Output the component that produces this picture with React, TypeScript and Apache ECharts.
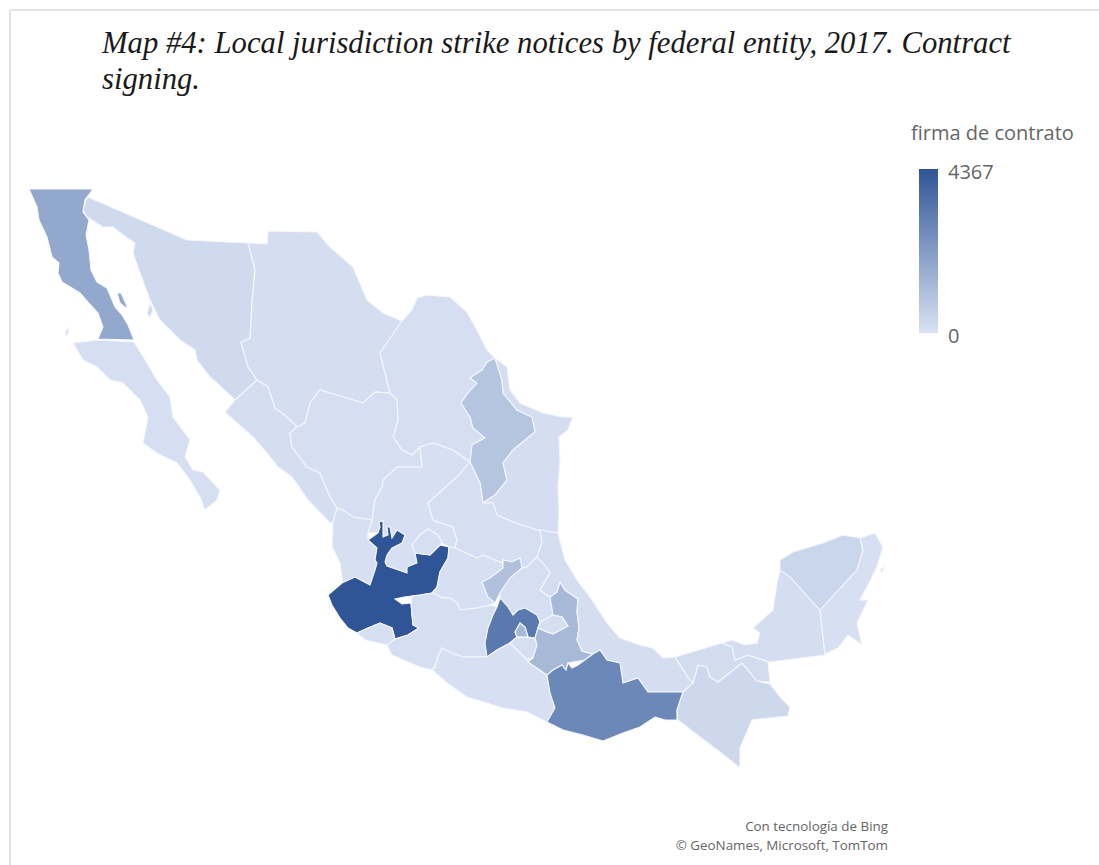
import React, { useEffect, useRef } from "react";
import * as echarts from "echarts";

const titleLines = [
  "Map #4: Local jurisdiction strike notices by federal entity, 2017. Contract",
  "signing.",
];
const legendTitle = "firma de contrato";
const creditLines = ["Con tecnología de Bing", "© GeoNames, Microsoft, TomTom"];

const valueMin = 0;
const valueMax = 4367;
const rampLow = "#D9E2F3";
const rampHigh = "#2F5597";

const stateNames = [
  "Baja California", "Baja California Sur", "Sonora", "Chihuahua", "Coahuila", "Nuevo León",
  "Tamaulipas", "Sinaloa", "Durango", "Zacatecas", "Nayarit", "Jalisco", "Aguascalientes",
  "San Luis Potosí", "Guanajuato", "Querétaro", "Hidalgo", "Michoacán", "Colima", "México",
  "Ciudad de México", "Morelos", "Guerrero", "Puebla", "Tlaxcala", "Veracruz", "Oaxaca",
  "Chiapas", "Tabasco", "Campeche", "Yucatán", "Quintana Roo",
];
const stateValues = [
  1800, 90, 260, 110, 90, 930,
  120, 110, 90, 70, 60, 4367, 80,
  90, 70, 1050, 100, 90, 70, 3250,
  1230, 80, 70, 1260, 80, 110, 2800,
  310, 200, 130, 380, 60,
];

type Ring = number[][];

// Hand-traced state outlines in screen units (x right, y down), one list of rings per state.
const stateOutlines: Ring[][] = [
  [
    [[29,189],[93,189],[85,200],[83,212],[89,220],[86,235],[89,250],[91,270],[97,282],[107,288],[115,307],[122,315],[128,325],[134,340],[98,339],[103,327],[98,313],[88,302],[80,293],[62,282],[58,273],[59,263],[52,257],[47,237],[39,220],[37,207]],
    [[117,293],[121,293],[127,306],[126,308],[120,303]],
  ],
  [
    [[73,343],[98,340],[134,342],[147,363],[157,380],[170,397],[173,417],[190,440],[185,457],[193,470],[203,472],[220,490],[217,500],[205,510],[200,497],[190,480],[177,463],[157,453],[143,443],[148,417],[140,400],[123,383],[110,380],[97,367],[83,360]],
    [[65,333],[68,327],[69,332],[67,336]],
  ],
  [
    [[88,197],[187,240],[248,243],[255,270],[252,303],[250,338],[241,342],[248,367],[257,380],[235,400],[217,383],[210,377],[197,360],[195,350],[180,340],[160,320],[150,300],[140,273],[133,253],[135,243],[123,235],[113,227],[103,227],[87,217],[83,210],[86,200]],
    [[147,313],[150,303],[153,310],[150,318]],
  ],
  [
    [[248,243],[267,244],[268,231],[317,232],[330,247],[353,267],[362,288],[367,300],[383,313],[402,321],[380,353],[390,393],[375,392],[363,403],[347,398],[320,390],[310,403],[305,423],[297,427],[287,417],[275,408],[268,387],[257,380],[248,367],[241,342],[250,338],[252,303],[255,270]],
  ],
  [
    [[402,321],[412,310],[417,298],[427,295],[450,297],[467,312],[477,330],[487,350],[495,358],[487,362],[482,370],[470,378],[477,383],[468,393],[461,403],[470,417],[473,428],[485,438],[472,445],[470,462],[453,450],[433,443],[420,447],[412,455],[402,450],[393,437],[398,420],[397,400],[390,393],[380,353]],
  ],
  [
    [[487,362],[495,358],[502,380],[503,393],[517,410],[532,417],[535,432],[513,450],[503,463],[507,480],[495,495],[483,503],[480,483],[470,462],[472,445],[485,438],[473,428],[470,417],[461,403],[468,393],[477,383],[470,378],[482,370]],
  ],
  [
    [[495,358],[507,367],[510,390],[520,403],[543,413],[563,417],[573,417],[568,430],[559,437],[560,460],[558,487],[559,510],[558,533],[543,537],[537,530],[513,522],[497,515],[493,503],[483,503],[495,495],[507,480],[503,463],[513,450],[535,432],[532,417],[517,410],[503,393],[502,380]],
  ],
  [
    [[225,412],[235,400],[257,380],[268,387],[275,408],[287,417],[297,427],[290,433],[292,447],[307,467],[320,473],[330,497],[337,508],[333,522],[330,523],[308,500],[292,477],[278,467],[267,453],[253,437],[237,423]],
  ],
  [
    [[297,427],[305,423],[310,403],[320,390],[347,398],[363,403],[375,392],[390,393],[397,400],[398,420],[393,437],[402,450],[412,455],[420,447],[422,467],[397,467],[383,480],[382,487],[375,500],[372,520],[353,517],[343,510],[337,508],[330,497],[320,473],[307,467],[292,447],[290,433]],
  ],
  [
    [[420,447],[433,443],[453,450],[470,462],[457,477],[440,492],[428,503],[433,520],[453,527],[457,540],[455,548],[449,547],[442,543],[438,535],[428,529],[420,535],[412,545],[415,553],[417,563],[407,567],[407,573],[387,566],[385,562],[387,555],[392,548],[402,543],[405,535],[397,530],[392,538],[390,527],[387,527],[388,535],[383,537],[383,528],[383,521],[379,522],[380,527],[378,533],[368,533],[372,520],[375,500],[382,487],[383,480],[397,467],[422,467]],
  ],
  [
    [[333,522],[337,508],[343,510],[353,517],[372,520],[368,533],[368,540],[377,548],[375,560],[377,563],[375,570],[370,585],[355,577],[342,583],[342,578],[340,563],[332,547]],
  ],
  [
    [[328,595],[342,583],[355,577],[370,585],[375,570],[377,563],[375,560],[377,548],[368,540],[378,533],[380,527],[379,522],[383,521],[383,528],[383,537],[388,535],[387,527],[390,527],[392,538],[397,530],[405,535],[402,543],[392,548],[387,555],[385,562],[387,566],[407,573],[407,567],[417,563],[415,553],[430,555],[440,545],[449,547],[448,558],[440,572],[437,587],[432,593],[420,595],[412,596],[404,597],[395,599],[402,604],[411,603],[412,615],[413,625],[419,628],[408,635],[395,639],[392,628],[380,623],[368,628],[357,633],[348,628],[340,618],[332,605]],
  ],
  [
    [[412,545],[420,535],[428,529],[438,535],[442,543],[440,545],[430,555],[415,553]],
  ],
  [
    [[470,462],[480,483],[483,503],[493,503],[497,515],[513,522],[537,530],[540,530],[542,542],[537,557],[527,567],[522,568],[520,558],[512,562],[503,560],[502,563],[483,555],[477,558],[455,548],[457,540],[453,527],[433,520],[428,503],[440,492],[457,477]],
  ],
  [
    [[449,547],[455,548],[477,558],[483,555],[502,563],[503,568],[490,578],[482,582],[488,597],[495,603],[490,605],[477,608],[460,610],[457,603],[450,598],[442,598],[437,595],[432,593],[437,587],[440,572],[448,558]],
  ],
  [
    [[482,582],[490,578],[503,568],[503,560],[512,562],[520,558],[522,568],[510,578],[500,593],[495,603],[488,597]],
  ],
  [
    [[522,568],[527,567],[537,557],[547,568],[550,573],[540,590],[550,597],[553,615],[540,622],[537,615],[525,608],[518,610],[513,615],[508,607],[500,598],[500,593],[510,578]],
  ],
  [
    [[412,596],[420,595],[432,593],[437,595],[442,598],[450,598],[457,603],[460,610],[477,608],[490,605],[497,607],[493,615],[488,628],[485,643],[487,657],[463,657],[452,653],[442,648],[438,657],[435,667],[432,670],[420,667],[392,655],[387,645],[395,639],[408,635],[419,628],[413,625],[412,615],[411,603]],
  ],
  [
    [[357,633],[368,628],[380,623],[392,628],[395,639],[387,645],[365,640]],
  ],
  [
    [[500,598],[508,607],[513,615],[518,610],[525,608],[537,615],[540,622],[538,628],[535,638],[528,637],[525,627],[520,623],[515,632],[517,637],[510,643],[497,650],[487,657],[485,643],[488,628],[493,615],[497,607]],
  ],
  [
    [[520,623],[525,627],[528,637],[517,637],[515,632]],
  ],
  [
    [[510,643],[517,637],[535,638],[537,645],[533,657],[527,660]],
  ],
  [
    [[432,670],[435,667],[438,657],[442,648],[452,653],[463,657],[487,657],[497,650],[510,643],[527,660],[533,658],[528,662],[547,675],[550,693],[555,708],[547,722],[527,712],[503,708],[467,697],[447,683]],
  ],
  [
    [[560,582],[565,590],[578,599],[577,612],[579,628],[577,640],[582,651],[593,654],[585,660],[568,663],[566,670],[562,665],[553,670],[547,675],[528,662],[533,658],[537,645],[535,638],[538,628],[547,632],[553,634],[568,626],[562,617],[553,615],[550,597],[557,592]],
  ],
  [
    [[540,622],[553,615],[562,617],[568,626],[553,634],[547,632],[538,628]],
  ],
  [
    [[540,530],[558,533],[565,560],[577,580],[590,597],[607,623],[620,638],[640,645],[653,648],[663,658],[675,657],[688,677],[693,683],[687,690],[683,692],[648,692],[638,678],[623,683],[620,663],[607,660],[600,650],[593,654],[582,651],[577,640],[579,628],[577,612],[578,599],[565,590],[560,582],[557,592],[550,597],[540,590],[550,573],[547,568],[537,557],[542,542]],
  ],
  [
    [[600,650],[607,660],[620,663],[623,683],[638,678],[648,692],[683,692],[677,710],[677,720],[665,720],[655,717],[640,727],[623,733],[603,741],[583,735],[563,730],[547,722],[555,708],[550,693],[547,675],[553,670],[562,665],[566,670],[568,663],[572,668],[578,665],[593,654]],
  ],
  [
    [[683,692],[693,683],[698,665],[707,667],[710,677],[718,682],[742,663],[757,681],[770,684],[780,697],[790,707],[788,716],[752,720],[740,748],[740,768],[720,752],[700,737],[678,720],[677,710]],
  ],
  [
    [[675,657],[722,643],[732,647],[735,660],[748,655],[768,662],[770,682],[757,681],[742,663],[718,682],[710,677],[707,667],[698,665],[693,683],[688,677]],
  ],
  [
    [[780,570],[790,577],[820,610],[825,655],[770,662],[748,655],[735,660],[732,647],[722,643],[732,640],[745,645],[757,643],[760,633],[753,628],[773,610],[777,583]],
  ],
  [
    [[780,560],[793,552],[823,543],[843,535],[860,538],[863,550],[857,570],[820,610],[790,577],[780,570]],
  ],
  [
    [[860,538],[875,533],[883,547],[877,567],[868,585],[860,600],[868,600],[857,623],[862,645],[848,635],[838,648],[827,653],[825,655],[820,610],[857,570],[863,550]],
    [[880,570],[885,565],[882,573]],
  ],
];

const mapName = "mexico-states";

const features = stateNames.map((name, i) => ({
  type: "Feature",
  properties: { name },
  geometry: {
    type: "MultiPolygon",
    // Screen y grows downward, geographic y upward.
    coordinates: stateOutlines[i].map((ring) => [ring.map(([x, y]) => [x, -y])]),
  },
}));

const allPoints = stateOutlines.flat(2);
const xs = allPoints.map((p) => p[0]);
const ys = allPoints.map((p) => p[1]);
const minX = Math.min(...xs);
const maxX = Math.max(...xs);
const minY = Math.min(...ys);
const maxY = Math.max(...ys);

export default function App() {
  const ref = useRef<HTMLDivElement>(null);

  useEffect(() => {
    if (!ref.current) return;
    echarts.registerMap(mapName, { type: "FeatureCollection", features } as any);
    const chart = echarts.init(ref.current, undefined, { renderer: "svg" });
    chart.setOption({
      animation: false,
      backgroundColor: "#ffffff",
      title: {
        text: titleLines.join("\n"),
        left: 102,
        top: 25,
        padding: 0,
        textStyle: {
          fontFamily: "Liberation Serif",
          fontStyle: "italic",
          fontWeight: "normal",
          fontSize: 30.7,
          lineHeight: 36,
          color: "#1a1a1a",
        },
      },
      // Colour scale only; its square-ended key is drawn below as a gradient rect.
      visualMap: {
        type: "continuous",
        show: false,
        min: valueMin,
        max: valueMax,
        inRange: { color: [rampLow, rampHigh] },
      },
      series: [
        {
          type: "map",
          map: mapName,
          silent: true,
          aspectScale: 1,
          roam: false,
          left: minX,
          top: minY,
          width: maxX - minX,
          height: maxY - minY,
          label: { show: false },
          emphasis: { disabled: true },
          select: { disabled: true },
          itemStyle: { borderColor: "#F4F7FC", borderWidth: 1.1 },
          data: stateNames.map((name, i) => ({ name, value: stateValues[i] })),
        },
      ],
      graphic: [
        { type: "line", silent: true, shape: { x1: 10, y1: 10, x2: 1099, y2: 10 }, style: { stroke: "#E2E2E2", lineWidth: 2 } },
        { type: "line", silent: true, shape: { x1: 10, y1: 10, x2: 10, y2: 865 }, style: { stroke: "#E2E2E2", lineWidth: 2 } },
        {
          type: "rect", silent: true,
          shape: { x: 919, y: 169, width: 19, height: 164 },
          style: {
            fill: {
              type: "linear", x: 0, y: 0, x2: 0, y2: 1,
              colorStops: [
                { offset: 0, color: rampHigh },
                { offset: 1, color: rampLow },
              ],
            },
          },
        },
        {
          type: "text", x: 911, y: 132, silent: true,
          style: { text: legendTitle, fontFamily: "Open Sans", fontSize: 20, fill: "#666666", textVerticalAlign: "middle" },
        },
        {
          type: "text", x: 948, y: 171, silent: true,
          style: { text: String(valueMax), fontFamily: "Open Sans", fontSize: 20, fill: "#666666", textVerticalAlign: "middle" },
        },
        {
          type: "text", x: 948, y: 335, silent: true,
          style: { text: String(valueMin), fontFamily: "Open Sans", fontSize: 20, fill: "#666666", textVerticalAlign: "middle" },
        },
        ...creditLines.map((line, i) => ({
          type: "text", x: 888, y: 826 + i * 19, silent: true,
          style: { text: line, fontFamily: "Open Sans", fontSize: 13.4, fill: "#666666", textAlign: "right", textVerticalAlign: "middle" },
        })),
      ],
    });
    return () => chart.dispose();
  }, []);

  return <div ref={ref} style={{ position: "fixed", left: 0, top: 0, width: 1099, height: 865 }} />;
}
